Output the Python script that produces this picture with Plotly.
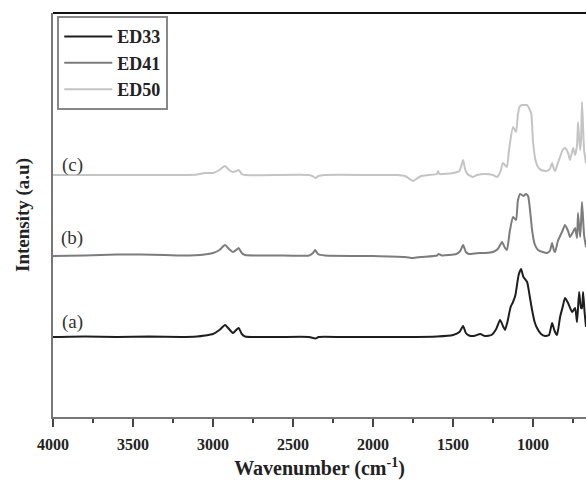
import plotly.graph_objects as go

# Wavenumbers (cm^-1) and intensities (arbitrary units, above each trace's baseline)
ed33_wn = [4000, 3800, 3600, 3400, 3200, 3100, 3050, 3000, 2960, 2925, 2900, 2875, 2855, 2840, 2820, 2800,
           2600, 2400, 2360, 2340, 2200, 2000, 1800, 1600, 1500, 1460, 1437, 1420, 1400, 1370, 1330, 1300,
           1260, 1230, 1206, 1185, 1175, 1160, 1140, 1125, 1110, 1090, 1075, 1060, 1037, 1020, 1006, 990,
           975, 950, 925, 900, 881, 865, 850, 831, 815, 800, 781, 756, 737, 725, 712, 700, 694, 687, 678, 669]
ed33_int = [0, 0.5, 0, 0.5, 0, 0.5, 1.5, 3, 7, 12, 8, 4, 7, 9, 3, 0.5,
            0, 0, -1.5, 0, 0, 0, 0, 0.5, 2, 5, 11, 4, 1.5, 1, 3, 1,
            2, 8, 17, 10, 7, 15, 30, 35, 42, 62, 68, 60, 55, 40, 27, 15,
            9, 3, 1, 2, 14, 6, 2, 20, 30, 39, 34, 25, 29, 15, 45, 29, 29, 45, 25, 10]

ed41_wn = [4000, 3800, 3600, 3450, 3300, 3150, 3080, 3000, 2960, 2925, 2900, 2875, 2855, 2840, 2820, 2800,
           2600, 2400, 2375, 2362, 2345, 2300, 2000, 1800, 1750, 1700, 1600, 1590, 1570, 1480, 1455, 1437,
           1420, 1400, 1330, 1300, 1250, 1220, 1194, 1175, 1163, 1145, 1125, 1106, 1095, 1081, 1060, 1045,
           1031, 1015, 1006, 990, 969, 940, 913, 895, 881, 870, 862, 845, 819, 800, 781, 769, 750, 737,
           725, 719, 706, 700, 694, 681, 669]
ed41_int = [0, 0.5, 1.5, 1.5, 1, 0.5, 1, 3, 6, 11, 7, 4, 6, 8, 3, 1,
            0.5, 0.5, 3, 6, 2, 0.5, 0, -1, -2, -1, 0.5, 2, 0.5, 2, 5, 11,
            4, 2, 3, 3, 4, 7, 14, 8, 6, 25, 39, 36, 55, 62, 60, 62,
            60, 40, 26, 12, 6, 4, 3, 5, 13, 6, 4, 15, 24, 31, 25, 19, 24, 28,
            18, 43, 19, 33, 54, 21, 9]

ed50_wn = [4000, 3600, 3200, 3100, 3050, 3000, 2960, 2925, 2900, 2875, 2855, 2840, 2820, 2800,
           2400, 2380, 2360, 2340, 2300, 2000, 1850, 1800, 1770, 1750, 1730, 1700, 1650, 1600, 1594, 1585,
           1500, 1460, 1437, 1425, 1410, 1390, 1375, 1350, 1300, 1250, 1225, 1205, 1188, 1175, 1163, 1150,
           1125, 1106, 1095, 1085, 1069, 1050, 1037, 1012, 1000, 985, 969, 950, 913, 895, 881, 870, 862,
           845, 831, 815, 800, 781, 769, 750, 737, 725, 719, 706, 700, 694, 681, 669]
ed50_int = [0, 0, 0, 0.5, 2, 2, 5, 9, 5, 3, 4, 5, 1, 0,
            0, -1, -3, -1, 0, 0, 0, -1, -4, -6, -4, -1, 0, 1, 4, 1,
            2, 4, 15, 6, 1, -1, -2, 0, 1, 0, -2, 3, 12, 10, 8, 25,
            48, 43, 60, 68, 70, 70, 70, 62, 33, 15, 8, 5, 4, 6, 12, 6, 4,
            12, 18, 25, 27, 22, 15, 27, 20, 30, 53, 25, 35, 73, 25, 12]

names = ["ED33", "ED41", "ED50"]
offsets = [80, 161, 242]
colors = ["#1e1e1e", "#7c7c7c", "#c4c4c4"]
trace_labels = ["(a)", "(b)", "(c)"]
label_y = [95, 179, 252]

SERIF = "Liberation Serif"

fig = go.Figure()
for wn, inten, name, off, col in zip([ed33_wn, ed41_wn, ed50_wn], [ed33_int, ed41_int, ed50_int],
                                     names, offsets, colors):
    fig.add_trace(go.Scatter(x=wn, y=[v + off for v in inten], mode="lines", name="<b>" + name + "</b>",
                             line=dict(color=col, width=2, shape="spline", smoothing=0.5)))

for lab, ly in zip(trace_labels, label_y):
    fig.add_annotation(x=3880, y=ly, text=lab, showarrow=False, xref="x", yref="y",
                       font=dict(family=SERIF, size=19, color="#333"))

fig.add_shape(type="line", xref="paper", yref="paper", x0=0, x1=1, y0=1, y1=1,
              line=dict(color="#111", width=2))

fig.update_layout(
    width=586, height=482,
    margin=dict(l=53, r=0, t=13, b=65),
    paper_bgcolor="white", plot_bgcolor="white",
    showlegend=True,
    legend=dict(x=0.008, y=0.992, xanchor="left", yanchor="top",
                bordercolor="#888", borderwidth=2, bgcolor="white",
                font=dict(family=SERIF, size=18, color="#222"),
                tracegroupgap=0, itemwidth=48),
    xaxis=dict(range=[4000, 669], autorange=False, tickmode="linear", tick0=4000, dtick=500,
               ticks="outside", ticklen=8, tickwidth=2, tickcolor="#444", ticklabelstandoff=4,
               showline=True, linecolor="#777", linewidth=2, showgrid=False, zeroline=False,
               tickfont=dict(family=SERIF, size=16, color="#222"),
               minor=dict(ticks="outside", ticklen=4, tickwidth=2, tickcolor="#444", dtick=250, tick0=4000, showgrid=False),
               title=dict(text="<b>Wavenumber (cm<sup>-1</sup>)</b>",
                          font=dict(family=SERIF, size=20, color="#222"), standoff=9),
               automargin=False),
    yaxis=dict(range=[0, 404], autorange=False, showticklabels=False, ticks="",
               showline=True, linecolor="#777", linewidth=2, showgrid=False, zeroline=False,
               title=dict(text="<b>Intensity (a.u)</b>", font=dict(family=SERIF, size=19, color="#222"),
                          standoff=16),
               automargin=False),
)
fig.update_xaxes(tickprefix="<b>", ticksuffix="</b>")

fig.write_html("out.html", config={"displayModeBar": False},
               post_script="document.body.style.margin='0px';document.body.style.padding='0px';"
                           "document.documentElement.style.overflow='hidden';")
